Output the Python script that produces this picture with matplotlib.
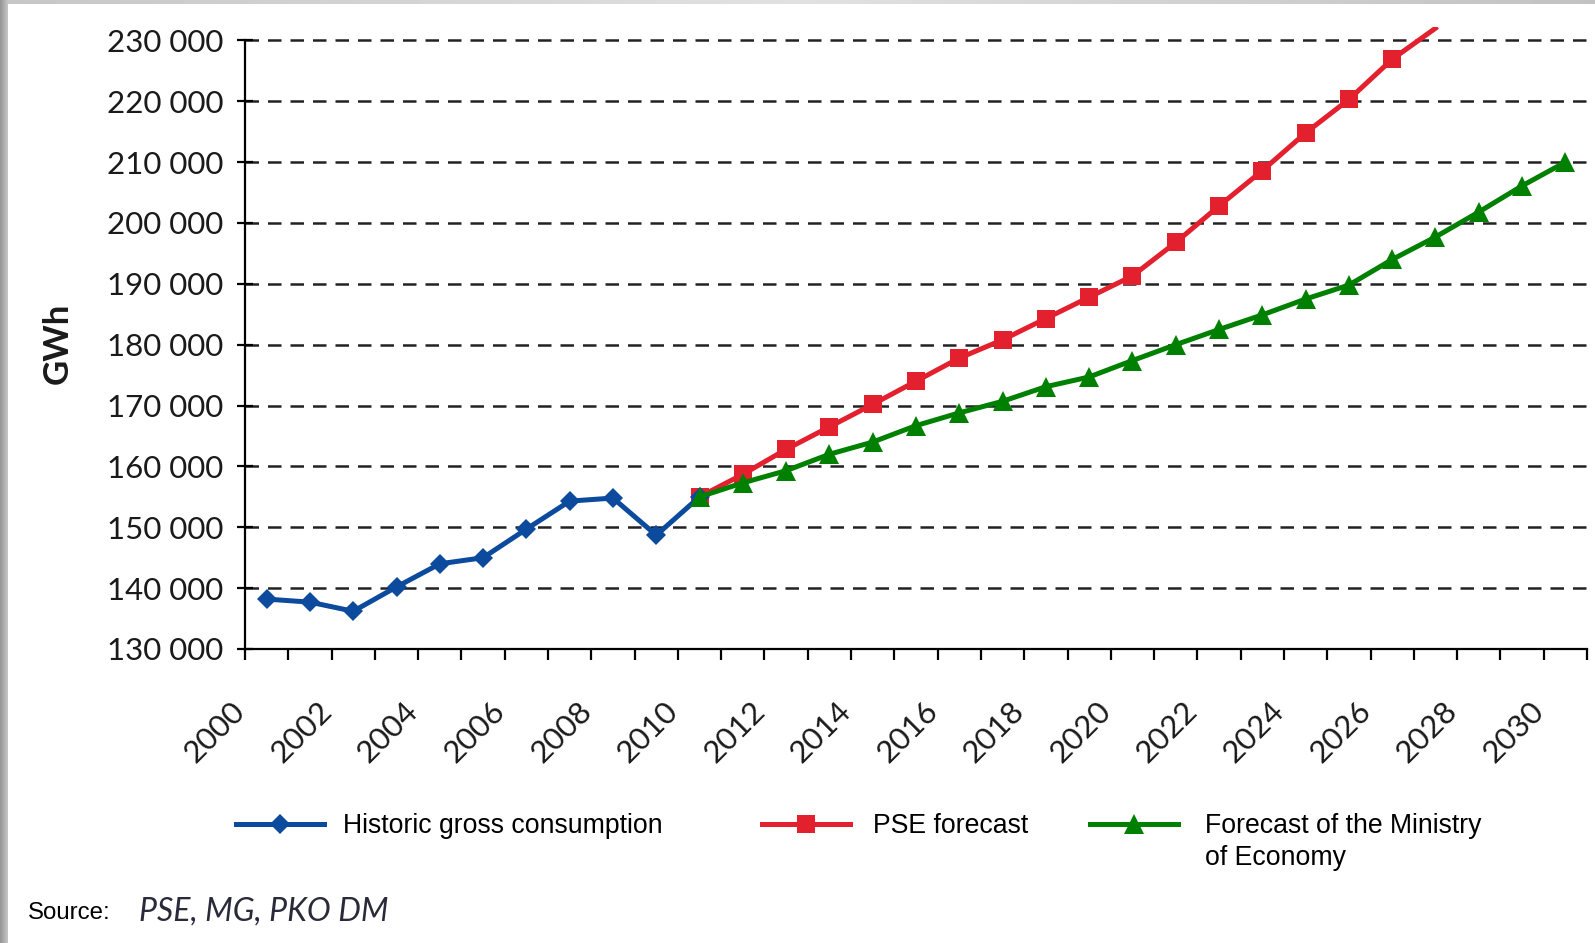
import matplotlib.pyplot as plt
import numpy as np
from matplotlib.ticker import FuncFormatter
from matplotlib.transforms import ScaledTranslation, blended_transform_factory

years = list(range(2000, 2031))
hist_years = list(range(2000, 2011))
historic = [138200, 137700, 136200, 140200, 144000, 145000, 149700, 154300, 154800, 148700, 155000]

pse_years = list(range(2010, 2028))
pse = [155000, 158700, 162800, 166500, 170200, 174000, 177800, 180800, 184300,
       187800, 191300, 196800, 202800, 208600, 214800, 220300, 226900, 232000]

me_years = list(range(2010, 2031))
ministry = [155000, 157300, 159300, 162000, 164000, 166700, 168800, 170700, 173100,
            174700, 177400, 180000, 182500, 184900, 187500, 189800, 194000, 197700,
            201800, 206100, 210000]

y_ticks = list(range(130000, 230001, 10000))
y_top = 230000

blue = "#0b4a9c"
red = "#e3202e"
green = "#008000"
text_col = "#1a1a1a"

fig = plt.figure(figsize=(15.95, 9.43), dpi=100)
ax = fig.add_axes([245 / 1595, 1 - 649 / 943, (1587 - 245) / 1595, (649 - 27) / 943])

pos = {yr: i for i, yr in enumerate(years)}


def xs(yrs):
    return [pos[y] for y in yrs]


def shown(vals):
    # markers only for points inside the value range
    return [i for i, v in enumerate(vals) if v <= y_top]


lw = 3.6
h1, = ax.plot(xs(hist_years), historic, color=blue, lw=lw, marker="D", ms=10,
              markeredgewidth=0, zorder=4)
h2, = ax.plot(xs(pse_years), pse, color=red, lw=lw, marker="s", ms=12.5,
              markeredgewidth=0, markevery=shown(pse), zorder=3)
h3, = ax.plot(xs(me_years), ministry, color=green, lw=lw, marker="^", ms=14,
              markeredgewidth=0, markevery=shown(ministry), zorder=5)

ax.set_xlim(-0.5, len(years) - 0.5)
ax.set_ylim(130000, 232200)

# dashed value gridlines
for v in y_ticks[1:]:
    ax.axhline(v, color="#222222", lw=1.8, ls=(0, (5.4, 3.6)), zorder=1)

for s in ("top", "right"):
    ax.spines[s].set_visible(False)
ax.spines["left"].set_bounds(130000, y_top)
for s in ("left", "bottom"):
    ax.spines[s].set_linewidth(1.6)
    ax.spines[s].set_color("black")

ax.set_yticks(y_ticks)
ax.yaxis.set_major_formatter(FuncFormatter(lambda v, p: f"{v:,.0f}".replace(",", " ")))
ax.tick_params(axis="y", direction="inout", length=11, width=1.6, pad=10,
               labelsize=22.5, labelcolor=text_col)
for lab in ax.get_yticklabels():
    lab.set_family("Lato")

# category boundaries carry the tick marks
ax.set_xticks(np.arange(-0.5, len(years), 1.0))
ax.set_xticklabels([])
ax.tick_params(axis="x", direction="out", length=8, width=1.6)

lab_tr = blended_transform_factory(ax.transData, ax.transAxes) + \
    ScaledTranslation(-0.26, -0.575, fig.dpi_scale_trans)
for yr in years[::2]:
    ax.text(pos[yr], 0, str(yr), transform=lab_tr, rotation=45, ha="right",
            va="center", rotation_mode="anchor", fontsize=22.5, family="Lato",
            color=text_col)

fig.text(58 / 1595, 1 - 343 / 943, "GWh", rotation=90, ha="center", va="center",
         fontsize=25, fontweight="bold", family="Lato", color=text_col)

leg_font = {"family": "Liberation Sans", "size": 19.2}
leg_y = 1 - 826 / 943
legs = []
for h, lab, x0, pad in [(h1, "Historic gross consumption", 236, 0.72),
                        (h2, "PSE forecast", 762, 0.87),
                        (h3, "Forecast of the Ministry", 1090, 1.03)]:
    lg = fig.legend(handles=[h], labels=[lab], loc="center left",
                    bbox_to_anchor=(x0 / 1595, leg_y), frameon=False, borderpad=0,
                    borderaxespad=0, handlelength=3.3, handletextpad=pad,
                    prop=leg_font)
    legs.append(lg)

fig.canvas.draw()
bb = legs[2].get_texts()[0].get_window_extent()
fig.text(bb.x0 / fig.bbox.width, (bb.y0 - 32) / fig.bbox.height, "of Economy",
         ha="left", va="bottom", family="Liberation Sans", fontsize=19.2)

fig.text(28 / 1595, 1 - 913 / 943, "Source:", ha="left", va="center",
         family="Liberation Sans", fontsize=17.3)
fig.text(139 / 1595, 1 - 912 / 943, "PSE, MG, PKO DM", ha="left", va="center",
         family="Lato", style="italic", fontsize=23, color="#2a2a3a")

# grey frame on the left and top edges
left = fig.add_axes([0, 0, 8 / 1595, 1])
left.imshow(np.linspace(0.58, 0.78, 20)[None, :], cmap="gray", vmin=0, vmax=1,
            aspect="auto", extent=(0, 1, 0, 1))
left.axis("off")
top = fig.add_axes([8 / 1595, 1 - 4 / 943, 1 - 8 / 1595, 4 / 943])
grad = np.concatenate([np.linspace(0.78, 0.88, 50), np.linspace(0.88, 0.76, 50)])
top.imshow(grad[None, :], cmap="gray", vmin=0, vmax=1, aspect="auto",
           extent=(0, 1, 0, 1))
top.axis("off")

fig.savefig("out.png", dpi=100)
